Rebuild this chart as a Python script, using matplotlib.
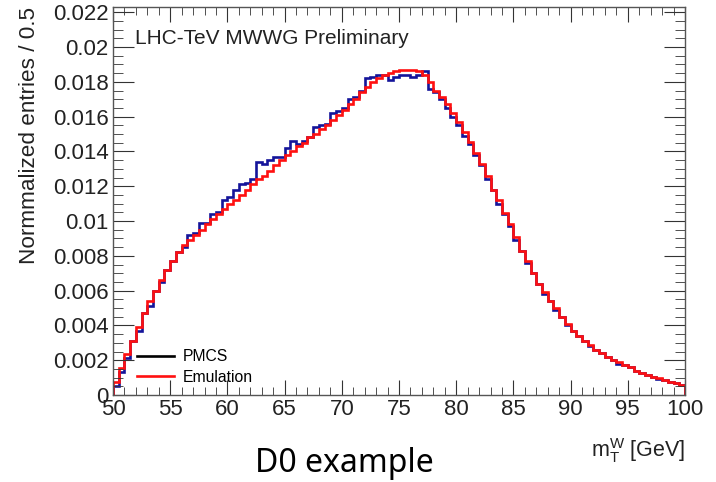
import numpy as np
import matplotlib
matplotlib.use('Agg')
import matplotlib.pyplot as plt
from matplotlib.ticker import MultipleLocator, FormatStrFormatter

plt.rcParams['font.family'] = 'Liberation Sans'
plt.rcParams['mathtext.fontset'] = 'custom'
plt.rcParams['mathtext.rm'] = 'Liberation Sans'

# m_T^W histogram, 0.5 GeV bins from 50 to 100
bin_edges = np.arange(50.0, 100.01, 0.5)

emulation = [
    0.00077, 0.00155, 0.00235, 0.0031, 0.0039, 0.0047, 0.0054, 0.0060, 0.0066, 0.0072,
    0.0077, 0.0082, 0.0086, 0.0089, 0.0092, 0.0095, 0.0098, 0.0101, 0.0104, 0.0107,
    0.0110, 0.0112, 0.0115, 0.0118, 0.0121, 0.0124, 0.0126, 0.0129, 0.0132, 0.0135,
    0.0138, 0.0140, 0.0143, 0.0145, 0.0148, 0.0150, 0.0153, 0.0155, 0.0158, 0.0161,
    0.0164, 0.0167, 0.0170, 0.0174, 0.0177, 0.0180, 0.0182, 0.0184, 0.0185, 0.0186,
    0.0187, 0.0187, 0.0187, 0.0186, 0.0184, 0.0180, 0.0175, 0.0171, 0.0167, 0.0162,
    0.0157, 0.0151, 0.01455, 0.0139, 0.0133, 0.0126, 0.0118, 0.0112, 0.01045, 0.0098,
    0.0091, 0.0083, 0.0077, 0.0070, 0.0064, 0.0059, 0.0054, 0.0050, 0.0045, 0.0041,
    0.0037, 0.0034, 0.0031, 0.0029, 0.0026, 0.0024, 0.0022, 0.0020, 0.0019, 0.0017,
    0.0016, 0.0014, 0.00127, 0.00116, 0.00105, 0.00095, 0.00086, 0.00077, 0.00068, 0.00060,
]

pmcs = [
    0.0005, 0.00135, 0.0021, 0.0031, 0.0037, 0.0047, 0.0051, 0.0060, 0.0065, 0.0072,
    0.0077, 0.0082, 0.0085, 0.0092, 0.0093, 0.0099, 0.0099, 0.0104, 0.0105, 0.0112,
    0.0114, 0.0118, 0.0121, 0.0122, 0.0124, 0.0134, 0.0133, 0.0135, 0.0137, 0.0137,
    0.0142, 0.0146, 0.0144, 0.0146, 0.0148, 0.0154, 0.0155, 0.0156, 0.0162, 0.0163,
    0.0165, 0.0170, 0.0171, 0.0175, 0.0182, 0.0183, 0.0184, 0.0184, 0.0181, 0.0183,
    0.0184, 0.0184, 0.0183, 0.0184, 0.0186, 0.0176, 0.0174, 0.0170, 0.0165, 0.0160,
    0.0155, 0.0149, 0.01445, 0.0138, 0.0132, 0.0124, 0.0118, 0.0110, 0.0104, 0.0097,
    0.0089, 0.0083, 0.0076, 0.0070, 0.0064, 0.0058, 0.0054, 0.0049, 0.0045, 0.0040,
    0.0037, 0.0034, 0.0031, 0.0028, 0.0026, 0.0024, 0.0022, 0.0020, 0.0018, 0.0017,
    0.0016, 0.0014, 0.00125, 0.00116, 0.00106, 0.00094, 0.00086, 0.00077, 0.00068, 0.00059,
]

fig = plt.figure(figsize=(7.16, 4.82), dpi=100)
ax = fig.add_axes([113/716, 87/482, 572/716, 388/482])

ax.stairs(pmcs, bin_edges, color='#14149a', lw=1.9)
ax.stairs(emulation, bin_edges, color='#ff1010', lw=1.9)

ax.set_xlim(50, 100)
ax.set_ylim(0, 0.0223)

ax.xaxis.set_major_locator(MultipleLocator(5))
ax.xaxis.set_minor_locator(MultipleLocator(1))
ax.yaxis.set_major_locator(MultipleLocator(0.002))
ax.yaxis.set_minor_locator(MultipleLocator(0.0005))
ax.yaxis.set_major_formatter(FormatStrFormatter('%g'))
ax.tick_params(which='both', direction='in', top=True, right=True, labelsize=16,
               colors='#333333', labelcolor='#222222')
ax.tick_params(axis='x', which='major', length=11, pad=3)
ax.tick_params(axis='x', which='minor', length=6)
ax.tick_params(axis='y', which='major', length=15, pad=3)
ax.tick_params(axis='y', which='minor', length=7)
for s in ax.spines.values():
    s.set_color('#555555')
    s.set_linewidth(1.0)

ax.text(0.038, 0.92, 'LHC-TeV MWWG Preliminary', transform=ax.transAxes,
        fontsize=15, color='#222222', va='center')

# legend drawn ROOT-like: black line for PMCS, red for Emulation
leg_pmcs, = ax.plot([], [], color='black', lw=1.9, label='PMCS')
leg_emu, = ax.plot([], [], color='#ff1010', lw=1.9, label='Emulation')
ax.legend(handles=[leg_pmcs, leg_emu], loc='lower left', bbox_to_anchor=(0.018, -0.01),
          frameon=False, fontsize=11.3, handlelength=2.35, handletextpad=0.55,
          labelspacing=0.35)

fig.text(30/716, 1 - 7/482, 'Normmalized entries / 0.5', rotation=90,
         ha='center', va='top', fontsize=16.2, color='#222222')
fig.text(685/716, 1 - 451/482, r'm$_{\mathregular{T}}^{\mathregular{W}}$ [GeV]',
         ha='right', va='center', fontsize=15.5, color='#222222')
fig.text(344/716, 1 - 463/482, 'D0 example', ha='center', va='center',
         fontsize=23, family='Noto Sans', color='black')

fig.savefig('out.png', dpi=100, facecolor='white')
